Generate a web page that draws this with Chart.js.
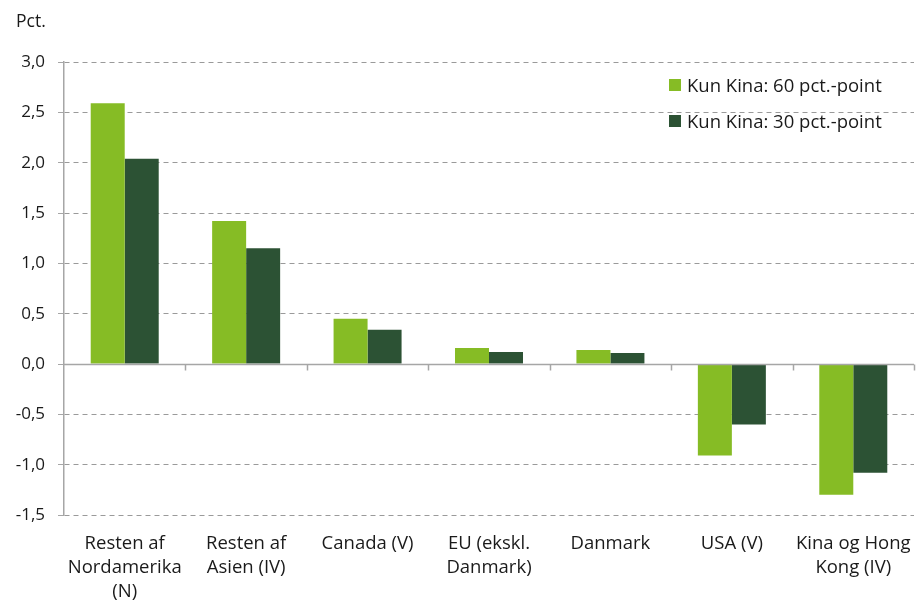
<!DOCTYPE html>
<html><head><meta charset="utf-8">
<script src="https://cdn.jsdelivr.net/npm/chart.js@4/dist/chart.umd.min.js"></script>
<style>
html,body{margin:0;padding:0;background:#fff;}
#wrap{position:relative;width:916px;height:604px;}
#legend{position:absolute;left:669px;top:73px;font-family:"Open Sans",sans-serif;font-size:18.5px;color:#1a1a1a;}
#legend div{height:36px;line-height:24px;display:flex;align-items:flex-start;}
#legend span.b{display:inline-block;width:12px;height:12px;margin-right:6px;margin-top:6px;}
</style></head>
<body><div id="wrap"><canvas id="c" width="916" height="604"></canvas>
<div id="legend"></div></div>
<script>
const categories = [["Resten af","Nordamerika","(N)"],["Resten af","Asien (IV)"],["Canada (V)"],["EU (ekskl.","Danmark)"],["Danmark"],["USA (V)"],["Kina og Hong","Kong (IV)"]];
const seriesNames = ["Kun Kina: 60 pct.-point","Kun Kina: 30 pct.-point"];
const series60 = [2.59, 1.42, 0.45, 0.16, 0.14, -0.91, -1.30];
const series30 = [2.04, 1.15, 0.34, 0.12, 0.11, -0.60, -1.08];
const yTicks = [3.0, 2.5, 2.0, 1.5, 1.0, 0.5, 0.0, -0.5, -1.0, -1.5];
const colors = ["#86bc25", "#2c5234"];
const axisTitle = "Pct.";

const FONT = '"Open Sans", sans-serif';
const TEXT = '#1a1a1a';
const AXIS = '#a6a6a6';

document.getElementById('legend').innerHTML = seriesNames.map((n,i)=>
  `<div><span class="b" style="background:${colors[i]}"></span><span>${n}</span></div>`).join('');

const overlay = {
  id:'overlay',
  afterDatasetsDraw(chart){
    const ctx = chart.ctx, x = chart.scales.x, y = chart.scales.y;
    const y0 = Math.round(y.getPixelForValue(0)) + 0.5;
    ctx.save();
    ctx.strokeStyle = AXIS; ctx.lineWidth = 1.5; ctx.setLineDash([]);
    ctx.beginPath(); ctx.moveTo(chart.chartArea.left, y0); ctx.lineTo(chart.chartArea.right, y0); ctx.stroke();
    const n = categories.length;
    for (let i=1;i<=n;i++){
      const px = Math.round(x.left + (x.right - x.left) * i / n) + 0.5;
      ctx.beginPath(); ctx.moveTo(px, y0); ctx.lineTo(px, y0 + 6); ctx.stroke();
    }
    ctx.fillStyle = TEXT; ctx.font = '17.5px ' + FONT; ctx.textBaseline = 'middle'; ctx.textAlign='left';
    ctx.fillText(axisTitle, 16, 22);
    ctx.restore();
  }
};

new Chart(document.getElementById('c'), {
  type:'bar',
  data:{ labels: categories, datasets:[
    {label: seriesNames[0], data: series60, backgroundColor: colors[0], categoryPercentage:0.56, barPercentage:1.0},
    {label: seriesNames[1], data: series30, backgroundColor: colors[1], categoryPercentage:0.56, barPercentage:1.0}
  ]},
  options:{
    responsive:false, animation:false, devicePixelRatio:1,
    layout:{padding:{top:62,right:2,left:0,bottom:0}},
    plugins:{legend:{display:false}, tooltip:{enabled:false}},
    scales:{
      x:{
        grid:{display:false, drawTicks:false},
        border:{display:false},
        ticks:{font:{family:FONT,size:18.5,lineHeight:1.3}, color:TEXT, padding:17, maxRotation:0, autoSkip:false},
        afterFit(s){ s.height = 89; s.paddingLeft = 0; s.paddingRight = 0; }
      },
      y:{
        min:-1.5, max:3.0,
        afterBuildTicks(s){ s.ticks = yTicks.map(v=>({value:v})); },
        ticks:{font:{family:FONT,size:17}, color:TEXT, padding:13,
          callback:(v)=> Number(v).toFixed(1).replace('.',',')},
        grid:{color:'#9a9a9a', lineWidth:1, tickLength:6, drawTicks:true, tickColor:AXIS, tickBorderDash:[]},
        border:{display:true, color:AXIS, width:1.5, dash:[5,4]},
        afterFit(s){ s.width = 64; s.paddingTop = 0; s.paddingBottom = 0; }
      }
    }
  },
  plugins:[overlay]
});
</script></body></html>
